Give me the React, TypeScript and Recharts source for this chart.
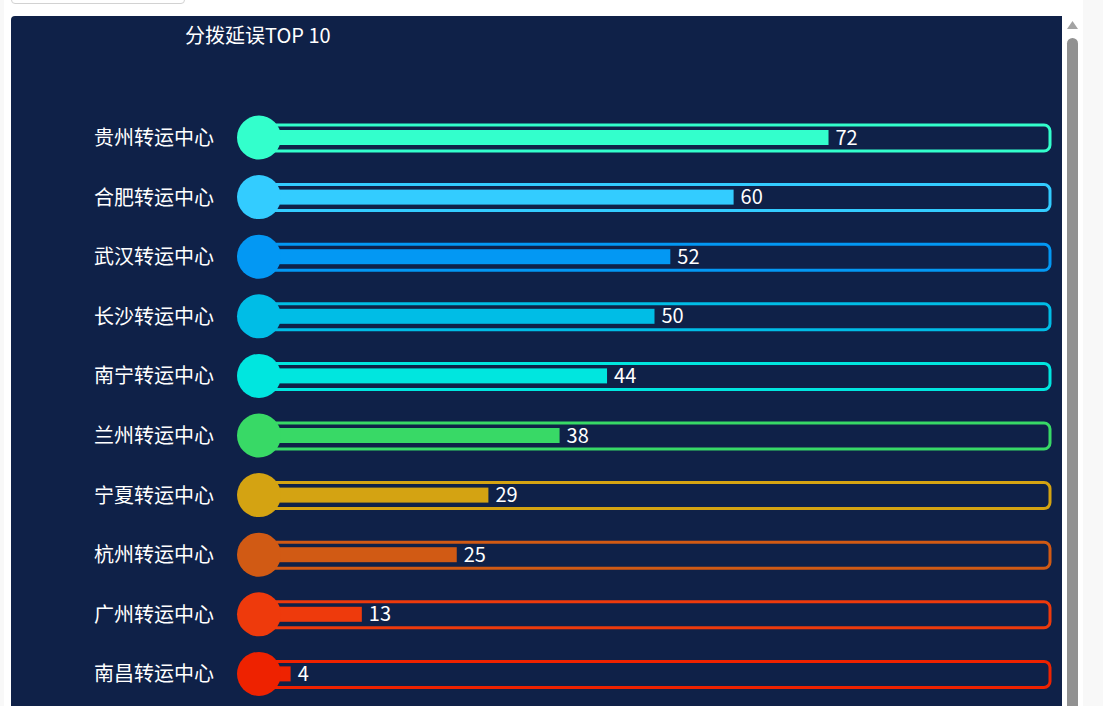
import { BarChart, Bar, XAxis, YAxis, Cell, LabelList } from "recharts";

const centers = [
  "贵州转运中心",
  "合肥转运中心",
  "武汉转运中心",
  "长沙转运中心",
  "南宁转运中心",
  "兰州转运中心",
  "宁夏转运中心",
  "杭州转运中心",
  "广州转运中心",
  "南昌转运中心",
];
const delays = [72, 60, 52, 50, 44, 38, 29, 25, 13, 4];
const colors = [
  "#33ffcc",
  "#33ccff",
  "#0398f3",
  "#00bde6",
  "#00e6df",
  "#38d966",
  "#d4a312",
  "#d15a14",
  "#ee3a0c",
  "#ee2200",
];
const TRACK_MAX = 100;

const data = centers.map((name, i) => ({ name, value: delays[i], track: TRACK_MAX }));

const FONT = '"Microsoft YaHei", "Noto Sans CJK SC", "Noto Sans", sans-serif';

// value bar + round head at the zero end
function ValueShape(props: any) {
  const { x, y, width, height, fill } = props;
  return (
    <g>
      <rect x={x} y={y} width={Math.max(width, 0)} height={height} fill={fill} />
      <circle cx={x} cy={y + height / 2} r={22} fill={fill} />
    </g>
  );
}

export default function App() {
  return (
    <div
      style={{
        position: "fixed",
        left: 0,
        top: 0,
        width: 1103,
        height: 706,
        overflow: "hidden",
        background: "#f8f8f8",
        fontFamily: FONT,
      }}
    >
      {/* white card behind */}
      <div style={{ position: "absolute", left: 4, top: 0, width: 1079, height: 706, background: "#ffffff" }} />
      {/* input box peeking at top */}
      <div
        style={{
          position: "absolute",
          left: 11,
          top: -10,
          width: 172,
          height: 12,
          border: "1px solid #d2d2d2",
          borderRadius: 4,
          background: "#fff",
        }}
      />
      {/* dark panel */}
      <div
        style={{
          position: "absolute",
          left: 11,
          top: 16,
          width: 1051,
          height: 720,
          background: "#0f2148",
          borderTopLeftRadius: 4,
        }}
      >
        <div
          style={{
            position: "absolute",
            left: 174,
            top: 6,
            color: "#ffffff",
            fontSize: 20,
            lineHeight: "26px",
          }}
        >
          分拨延误TOP 10
        </div>
        <BarChart
          width={1051}
          height={720}
          data={data}
          layout="vertical"
          margin={{ top: 92, right: 12, bottom: 32, left: 0 }}
        >
          <XAxis type="number" domain={[0, TRACK_MAX]} hide />
          <YAxis
            yAxisId="main"
            type="category"
            dataKey="name"
            width={248}
            axisLine={false}
            tickLine={false}
            tickSize={0}
            tickMargin={45}
            tick={{ fill: "#ffffff", fontSize: 20, fontFamily: FONT }}
          />
          <YAxis yAxisId="track" type="category" dataKey="name" hide />
          <Bar
            yAxisId="track"
            dataKey="track"
            barSize={26}
            fill="none"
            strokeWidth={3}
            radius={6}
            isAnimationActive={false}
          >
            {data.map((d, i) => (
              <Cell key={d.name} fill="none" stroke={colors[i]} />
            ))}
          </Bar>
          <Bar
            yAxisId="main"
            dataKey="value"
            barSize={15}
            shape={<ValueShape />}
            isAnimationActive={false}
          >
            {data.map((d, i) => (
              <Cell key={d.name} fill={colors[i]} />
            ))}
            <LabelList
              dataKey="value"
              position="right"
              offset={7}
              fill="#ffffff"
              fontSize={20}
              fontFamily={FONT}
            />
          </Bar>
        </BarChart>
      </div>
      {/* scrollbar */}
      <div style={{ position: "absolute", left: 1062, top: 16, width: 21, height: 690, background: "#ffffff" }} />
      <svg style={{ position: "absolute", left: 1062, top: 16 }} width={21} height={690}>
        <polygon points="5,13 10.5,5 16,13" fill="#a3a3a3" />
        <rect x={5} y={22} width={11} height={700} rx={5.5} fill="#919191" />
      </svg>
    </div>
  );
}
